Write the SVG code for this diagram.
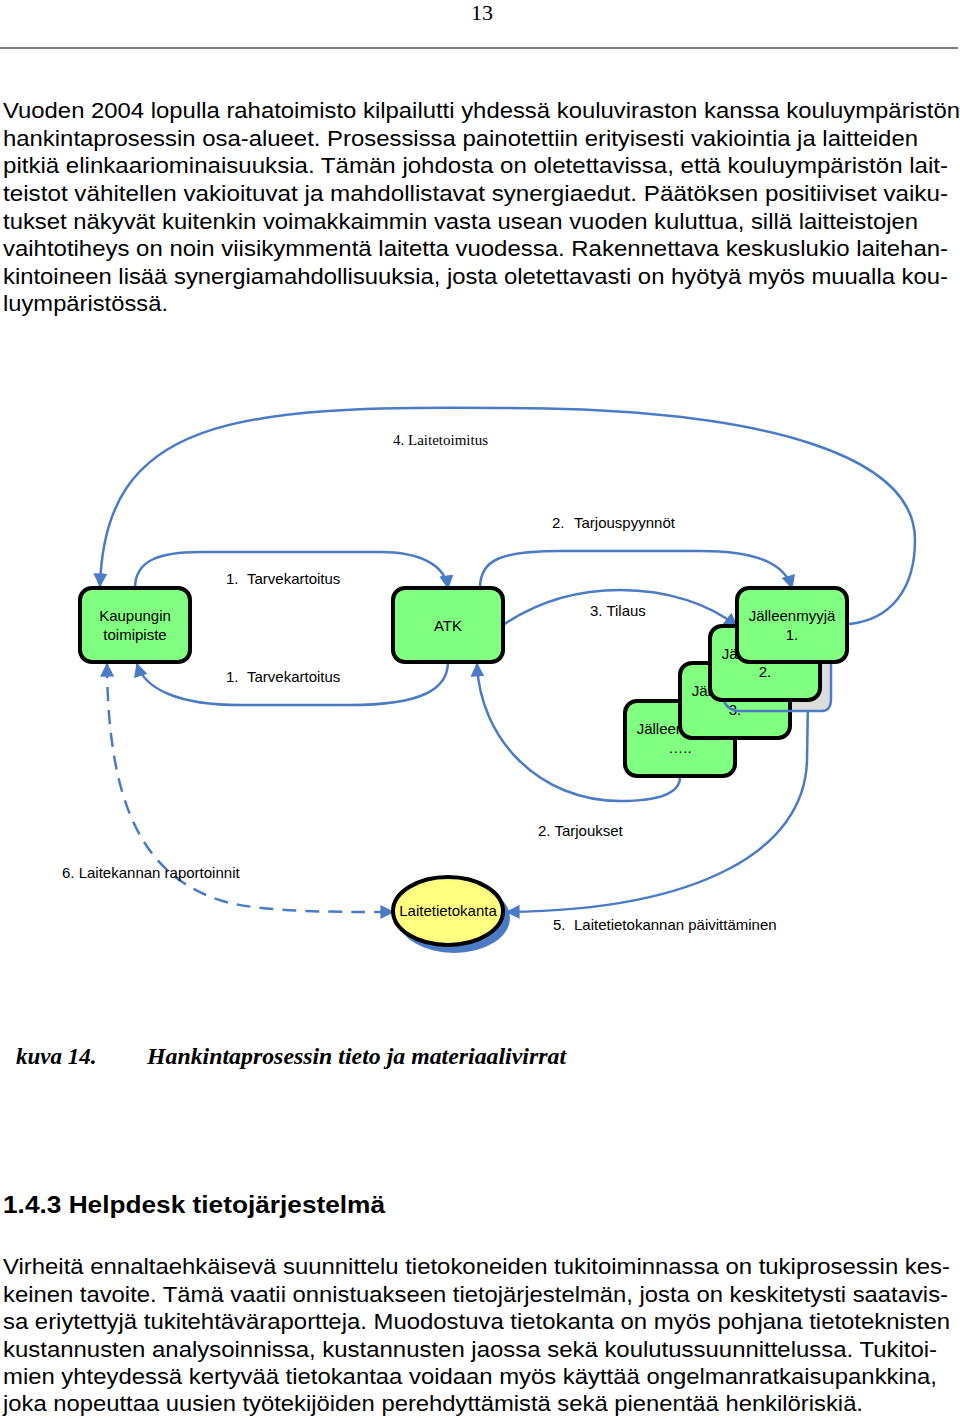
<svg xmlns="http://www.w3.org/2000/svg" width="960" height="1419" viewBox="0 0 960 1419">
<defs>
<style>
.body{font-family:"Liberation Sans",Arial,sans-serif;font-size:22px;fill:#000}
.lbl{font-family:"Liberation Sans",Arial,sans-serif;font-size:15px;fill:#000}
.nodet{font-family:"Liberation Sans",Arial,sans-serif;font-size:15px;fill:#000;text-anchor:middle}
.box{fill:#80ff80;stroke:#000;stroke-width:4}
.con{fill:none;stroke:#4a7bc4;stroke-width:2.5}
</style>
<marker id="ah" viewBox="0 0 10 10" refX="9" refY="5" markerWidth="14" markerHeight="14" markerUnits="userSpaceOnUse" orient="auto-start-reverse">
<path d="M0,0 L10,5 L0,10 z" fill="#4a7bc4"/>
</marker>
</defs>
<rect width="960" height="1419" fill="#fff"/>

<text x="482" y="20" font-family="Liberation Serif,serif" font-size="22" text-anchor="middle">13</text>
<line x1="0" y1="48" x2="958" y2="48" stroke="#000" stroke-width="1.2"/>

<g class="body">
<text x="3" y="118" textLength="957" lengthAdjust="spacingAndGlyphs">Vuoden 2004 lopulla rahatoimisto kilpailutti yhdessä kouluviraston kanssa kouluympäristön</text>
<text x="3" y="146" textLength="915" lengthAdjust="spacingAndGlyphs">hankintaprosessin osa-alueet. Prosessissa painotettiin erityisesti vakiointia ja laitteiden</text>
<text x="3" y="173" textLength="945" lengthAdjust="spacingAndGlyphs">pitkiä elinkaariominaisuuksia. Tämän johdosta on oletettavissa, että kouluympäristön lait-</text>
<text x="3" y="201" textLength="945" lengthAdjust="spacingAndGlyphs">teistot vähitellen vakioituvat ja mahdollistavat synergiaedut. Päätöksen positiiviset vaiku-</text>
<text x="3" y="229" textLength="915" lengthAdjust="spacingAndGlyphs">tukset näkyvät kuitenkin voimakkaimmin vasta usean vuoden kuluttua, sillä laitteistojen</text>
<text x="3" y="256" textLength="945" lengthAdjust="spacingAndGlyphs">vaihtotiheys on noin viisikymmentä laitetta vuodessa. Rakennettava keskuslukio laitehan-</text>
<text x="3" y="284" textLength="945" lengthAdjust="spacingAndGlyphs">kintoineen lisää synergiamahdollisuuksia, josta oletettavasti on hyötyä myös muualla kou-</text>
<text x="3" y="311" textLength="165" lengthAdjust="spacingAndGlyphs">luympäristössä.</text>
</g>

<g id="connectors">
<path class="con" d="M849 624 C890 620 915 590 915 540 C915 460 780 408 500 408 C230 405 105 420 100 586" marker-end="url(#ah)"/>
<path class="con" d="M135 588 C135 560 160 552 200 552 L380 552 C420 552 445 565 448 588" marker-end="url(#ah)"/>
<path class="con" d="M448 662 C448 690 420 705 350 705 L240 705 C180 705 145 690 137 664" marker-end="url(#ah)"/>
<path class="con" d="M480 588 C480 560 500 551 560 551 L700 551 C760 551 785 565 792 588" marker-end="url(#ah)"/>
<path class="con" d="M503 625 C540 600 580 590 620 590 C670 590 710 605 737 626" marker-end="url(#ah)"/>
<path class="con" d="M680 777 C680 795 655 801 620 801 C540 801 480 740 477 664" marker-end="url(#ah)"/>
<path class="con" d="M808 700 L807 760 C805 850 700 910 507 912" marker-end="url(#ah)"/>
<path class="con" d="M107 664 C108 800 140 880 230 903 C270 912 330 912 393 912" stroke-dasharray="14 9" marker-start="url(#ah)" marker-end="url(#ah)"/>
</g>

<g class="lbl">
<text x="393" y="445" font-family="Liberation Serif,serif" font-size="15">4. Laitetoimitus</text>
<text x="552" y="528">2.<tspan x="574">Tarjouspyynnöt</tspan></text>
<text x="226" y="584">1.<tspan x="247">Tarvekartoitus</tspan></text>
<text x="226" y="682">1.<tspan x="247">Tarvekartoitus</tspan></text>
<text x="590" y="616">3. Tilaus</text>
<text x="538" y="836">2. Tarjoukset</text>
<text x="62" y="878">6. Laitekannan raportoinnit</text>
<text x="553" y="930">5.<tspan x="574">Laitetietokannan päivittäminen</tspan></text>
</g>

<g id="kaupungin">
<rect class="box" x="80" y="588" width="110" height="74" rx="12"/>
<text class="nodet" x="135" y="621">Kaupungin</text>
<text class="nodet" x="135" y="640">toimipiste</text>
</g>
<g id="atk">
<rect class="box" x="393" y="588" width="110" height="74" rx="12"/>
<text class="nodet" x="448" y="631">ATK</text>
</g>
<g id="jalleen4">
<rect class="box" x="625" y="701" width="110" height="75" rx="12"/>
<text class="nodet" x="680" y="734">Jälleenmyyjä</text>
<text class="nodet" x="680" y="753">…..</text>
</g>
<rect x="720" y="640" width="111" height="71" rx="10" fill="#dcdcdc"/>
<g id="jalleen3">
<rect class="box" x="680" y="663" width="110" height="75" rx="12"/>
<text class="nodet" x="735" y="696">Jälleenmyyjä</text>
<text class="nodet" x="735" y="715">3.</text>
</g>
<path d="M722 697 C725 706 730 711 740 711 L822 711 C828 711 831 706 831 700 L831 650" fill="none" stroke="#4a7bc4" stroke-width="2.5"/>
<g id="jalleen2">
<rect class="box" x="710" y="626" width="110" height="74" rx="12"/>
<text class="nodet" x="765" y="659">Jälleenmyyjä</text>
<text class="nodet" x="765" y="677">2.</text>
</g>
<g id="jalleen1">
<rect class="box" x="737" y="588" width="110" height="74" rx="12"/>
<text class="nodet" x="792" y="621">Jälleenmyyjä</text>
<text class="nodet" x="792" y="640">1.</text>
</g>
<g id="laitetietokanta">
<ellipse cx="454" cy="918" rx="56" ry="35" fill="#4a7bc4"/>
<ellipse cx="448" cy="911" rx="55" ry="34" fill="#ffff80" stroke="#000" stroke-width="4"/>
<text class="nodet" x="448" y="916">Laitetietokanta</text>
</g>

<g font-family="Liberation Serif,serif" font-size="23" font-weight="bold" font-style="italic">
<text x="16" y="1064">kuva 14.</text>
<text x="147" y="1064" textLength="419" lengthAdjust="spacingAndGlyphs">Hankintaprosessin tieto ja materiaalivirrat</text>
</g>

<text x="3" y="1213" font-family="Liberation Sans,Arial,sans-serif" font-size="24" font-weight="bold" textLength="382" lengthAdjust="spacingAndGlyphs">1.4.3  Helpdesk tietojärjestelmä</text>

<g class="body">
<text x="3" y="1274" textLength="947" lengthAdjust="spacingAndGlyphs">Virheitä ennaltaehkäisevä suunnittelu tietokoneiden tukitoiminnassa on tukiprosessin kes-</text>
<text x="3" y="1302" textLength="945" lengthAdjust="spacingAndGlyphs">keinen tavoite. Tämä vaatii onnistuakseen tietojärjestelmän, josta on keskitetysti saatavis-</text>
<text x="3" y="1329" textLength="947" lengthAdjust="spacingAndGlyphs">sa eriytettyjä tukitehtäväraportteja. Muodostuva tietokanta on myös pohjana tietoteknisten</text>
<text x="3" y="1357" textLength="934" lengthAdjust="spacingAndGlyphs">kustannusten analysoinnissa, kustannusten jaossa sekä koulutussuunnittelussa. Tukitoi-</text>
<text x="3" y="1384" textLength="934" lengthAdjust="spacingAndGlyphs">mien yhteydessä kertyvää tietokantaa voidaan myös käyttää ongelmanratkaisupankkina,</text>
<text x="3" y="1411" textLength="860" lengthAdjust="spacingAndGlyphs">joka nopeuttaa uusien työtekijöiden perehdyttämistä sekä pienentää henkilöriskiä.</text>
</g>
</svg>
